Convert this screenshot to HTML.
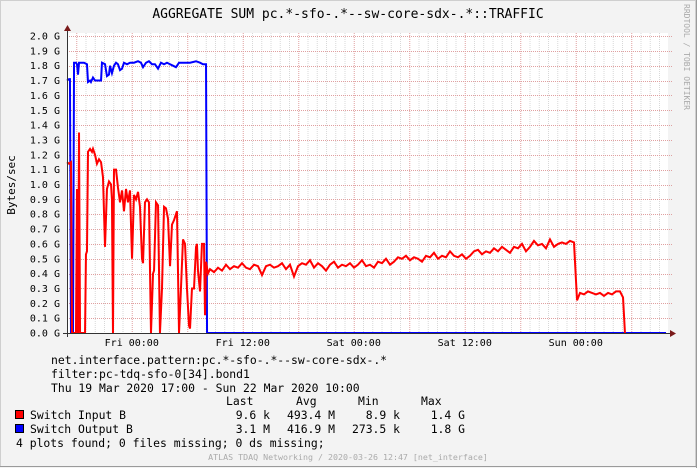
<!DOCTYPE html>
<html><head><meta charset="utf-8">
<style>
html,body{margin:0;padding:0;background:#f3f3f3;}
svg{display:block;}
text{font-family:"DejaVu Sans Mono","Liberation Mono",monospace;}
</style></head>
<body>
<svg id="chart" width="697" height="468" viewBox="0 0 697 468" xmlns="http://www.w3.org/2000/svg">
  <rect x="0" y="0" width="697" height="468" fill="#f3f3f3"/>
  <rect x="0.5" y="0.5" width="695" height="466" fill="none" stroke="#cfcfcf"/>
  <line x1="0" y1="466.5" x2="697" y2="466.5" stroke="#9a9a9a"/>
  <line x1="696.5" y1="0" x2="696.5" y2="468" stroke="#9a9a9a"/>
  <text x="348" y="18" text-anchor="middle" font-size="13" fill="#000">AGGREGATE SUM pc.*-sfo-.*--sw-core-sdx-.*::TRAFFIC</text>
  <text transform="translate(684,4) rotate(90)" font-size="8" fill="#aaa">RRDTOOL / TOBI OETIKER</text>
  <text transform="translate(15,185) rotate(-90)" text-anchor="middle" font-size="11" fill="#000">Bytes/sec</text>
  <rect x="67" y="33" width="601" height="300" fill="#fff"/>
  <g id="grid"></g>
  <g id="yticks"></g>
  <g id="xticks"></g>
  <g id="series"></g>
  <g id="axes"></g>
  <g font-size="11.4" fill="#000">
    <text x="51" y="364">net.interface.pattern:pc.*-sfo-.*--sw-core-sdx-.*</text>
    <text x="51" y="378">filter:pc-tdq-sfo-0[34].bond1</text>
    <text x="51" y="392">Thu 19 Mar 2020 17:00 - Sun 22 Mar 2020 10:00</text>
    <text x="226" y="405">Last</text>
    <text x="296" y="405">Avg</text>
    <text x="358" y="405">Min</text>
    <text x="421" y="405">Max</text>
    <rect x="15.5" y="410.5" width="8" height="8" fill="#ff0000" stroke="#000"/>
    <text x="30" y="419">Switch Input B</text>
    <text x="270" y="419" text-anchor="end">9.6 k</text>
    <text x="335" y="419" text-anchor="end">493.4 M</text>
    <text x="400" y="419" text-anchor="end">8.9 k</text>
    <text x="465" y="419" text-anchor="end">1.4 G</text>
    <rect x="15.5" y="424.5" width="8" height="8" fill="#0000ff" stroke="#000"/>
    <text x="30" y="433">Switch Output B</text>
    <text x="270" y="433" text-anchor="end">3.1 M</text>
    <text x="335" y="433" text-anchor="end">416.9 M</text>
    <text x="400" y="433" text-anchor="end">273.5 k</text>
    <text x="465" y="433" text-anchor="end">1.8 G</text>
    <text x="16" y="447">4 plots found; 0 files missing; 0 ds missing;</text>
  </g>
  <text x="348" y="460" text-anchor="middle" font-size="8.3" fill="#aaa">ATLAS TDAQ Networking / 2020-03-26 12:47 [net_interface]</text>
</svg>
<script>
// ---- data ----
const yTickValues = [0,0.1,0.2,0.3,0.4,0.5,0.6,0.7,0.8,0.9,1.0,1.1,1.2,1.3,1.4,1.5,1.6,1.7,1.8,1.9,2.0];
const xTickHours = [7,19,31,43,55];
const xTickLabels = ["Fri 00:00","Fri 12:00","Sat 00:00","Sat 12:00","Sun 00:00"];
const redHoursA = [0,.22,.43,.54,.97,1.08,1.19,1.30,1.41,1.95,2.05,2.16,2.27,2.49,2.70,2.81,3.03,3.24,3.46,3.68,3.89,4.11,4.32,4.54,4.76,4.86,4.97,5.08,5.30,5.51,5.73,5.95,6.16,6.38,6.59,6.81,7.03,7.24,7.46,7.68,7.89,8.11,8.22,8.43,8.65,8.86,9.08,9.30,9.41,9.62,9.84,10.05,10.27,10.49,10.70,10.92,11.14,11.35,11.57,11.78,11.89,12.11,12.32,12.54,12.76,12.97,13.19,13.30,13.51,13.73,13.95,14.05,14.16,14.38,14.59,14.81,14.92,15.03,15.24];
const redValuesA = [1.15,1.14,1.15,0,0,0.97,0,1.35,0,0,0.53,0.55,1.22,1.24,1.22,1.24,1.2,1.14,1.17,1.15,1.05,0.58,0.97,1.02,1.0,0.9,0,1.1,1.1,0.98,0.88,0.96,0.82,0.97,0.88,0.96,0.5,0.93,0.9,0.95,0.85,0.5,0.47,0.88,0.9,0.88,0,0.4,0.42,0.88,0.86,0,0.3,0.85,0.84,0.77,0.45,0.73,0.76,0.8,0.82,0,0.3,0.63,0.6,0.3,0.05,0.03,0.3,0.3,0.58,0.6,0.42,0.28,0.6,0.6,0.12,0.48,0.4];
const redStartB = 15.46, redStepB = 0.4324;
const redValuesB = [0.43,0.41,0.44,0.42,0.46,0.43,0.45,0.44,0.47,0.44,0.43,0.46,0.45,0.39,0.45,0.46,0.44,0.45,0.47,0.43,0.46,0.38,0.45,0.47,0.46,0.49,0.44,0.47,0.45,0.42,0.46,0.48,0.44,0.46,0.45,0.47,0.44,0.46,0.49,0.45,0.46,0.44,0.48,0.47,0.50,0.46,0.48,0.51,
 0.50,0.52,0.49,0.51,0.50,0.48,0.52,0.51,0.54,0.50,0.52,0.51,0.55,0.52,0.51,0.53,0.50,0.52,0.55,0.56,0.53,0.55,0.54,0.57,0.55,0.58,0.56,0.54,0.58,0.57,0.60,0.55,0.58,0.62,0.59,0.60,0.57,0.63,0.58,0.60,0.61,0.60,0.62,0.61];
const redHoursC = [55.14,55.46,55.89,56.32,56.76,57.19,57.62,58.05,58.49,58.92,59.35,59.78,60.11,60.32];
const redValuesC = [0.22,0.27,0.26,0.28,0.27,0.26,0.27,0.25,0.27,0.26,0.28,0.28,0.24,0];
const blueHours = [0,.22,.32,.43,.65,.76,.97,1.08,1.19,1.30,1.62,1.84,2.16,2.27,2.49,2.59,2.81,3.03,3.24,3.57,3.68,3.78,4.11,4.32,4.54,4.65,4.86,5.08,5.30,5.51,5.73,5.95,6.16,6.49,6.81,7.24,7.68,8.0,8.22,8.54,8.86,9.19,9.51,9.84,10.16,10.49,10.81,11.14,11.46,11.78,12.11,12.76,13.30,13.95,14.38,14.70,15.03,15.14,64.76];
const blueValues = [1.70,1.71,1.71,0,0,1.82,1.82,1.81,1.74,1.82,1.82,1.82,1.81,1.69,1.70,1.69,1.72,1.70,1.70,1.70,1.70,1.82,1.81,1.73,1.74,1.80,1.75,1.80,1.82,1.81,1.77,1.78,1.82,1.81,1.82,1.82,1.83,1.82,1.79,1.82,1.83,1.81,1.81,1.78,1.82,1.81,1.82,1.81,1.80,1.79,1.82,1.82,1.82,1.83,1.82,1.81,1.81,0,0];

// ---- axes ----
const X0 = 67, PXH = 9.25, Y0 = 333, PXG = 148.5, X1 = 668;
const xs = h => X0 + h * PXH;
const ys = v => Y0 - v * PXG;
const NS = "http://www.w3.org/2000/svg";
function mk(tag, attrs, parent){ const e=document.createElementNS(NS,tag); for(const k in attrs) e.setAttribute(k,attrs[k]); parent.appendChild(e); return e; }

const grid = document.getElementById('grid');
for (let h = 1; h * PXH + X0 < X1; h++) {
  const major = (h - 7) % 6 === 0;
  const l = mk('line',{x1:xs(h)+0.5,x2:xs(h)+0.5,y1:33,y2:Y0,stroke:major?'#e0a0a0':'#d8d8d8','stroke-dasharray':'1,1','stroke-width':1},grid);
  
  
}
const yt = document.getElementById('yticks');
yTickValues.forEach(v => {
  if (v > 0) {
    const l = mk('line',{x1:X0,x2:X1+4,y1:Math.round(ys(v))+0.5,y2:Math.round(ys(v))+0.5,stroke:'#e0a0a0','stroke-dasharray':'1,1'},grid);
    
    
  }
  const t = mk('text',{x:60,y:ys(v)+3.5,'text-anchor':'end','font-size':10,fill:'#000'},yt);
  t.textContent = v.toFixed(1) + ' G';
  
  
});
const xt = document.getElementById('xticks');
xTickHours.forEach((h,i) => {
  const t = mk('text',{x:xs(h),y:346,'text-anchor':'middle','font-size':10,fill:'#000'},xt);
  t.textContent = xTickLabels[i];
  
  
});

// ---- series ----
const ser = document.getElementById('series');
const redPts = [];
redHoursA.forEach((h,i)=>redPts.push([xs(h),ys(redValuesA[i])]));
redValuesB.forEach((v,i)=>redPts.push([xs(redStartB+i*redStepB),ys(v)]));
redHoursC.forEach((h,i)=>redPts.push([xs(h),ys(redValuesC[i])]));
const bluePts = blueHours.map((h,i)=>[xs(h),ys(blueValues[i])]);
const bl = mk('polyline',{points:bluePts.map(p=>p.join(',')).join(' '),fill:'none',stroke:'#0000ff','stroke-width':2,'stroke-linejoin':'miter'},ser);


const rl = mk('polyline',{points:redPts.map(p=>p.join(',')).join(' '),fill:'none',stroke:'#ff0000','stroke-width':2,'stroke-linejoin':'miter'},ser);



// ---- axes lines ----
const ax = document.getElementById('axes');
const xa = mk('line',{x1:63,x2:672,y1:333.5,y2:333.5,stroke:'#333','stroke-width':1},ax);


const ya = mk('line',{x1:67.5,x2:67.5,y1:30,y2:337,stroke:'#333','stroke-width':1},ax);


const xarr = mk('polygon',{points:'670,330 676,333.5 670,337',fill:'#7a1a1a'},ax);


const yarr = mk('polygon',{points:'64,31 67.5,25 71,31',fill:'#7a1a1a'},ax);


</script>
</body></html>
